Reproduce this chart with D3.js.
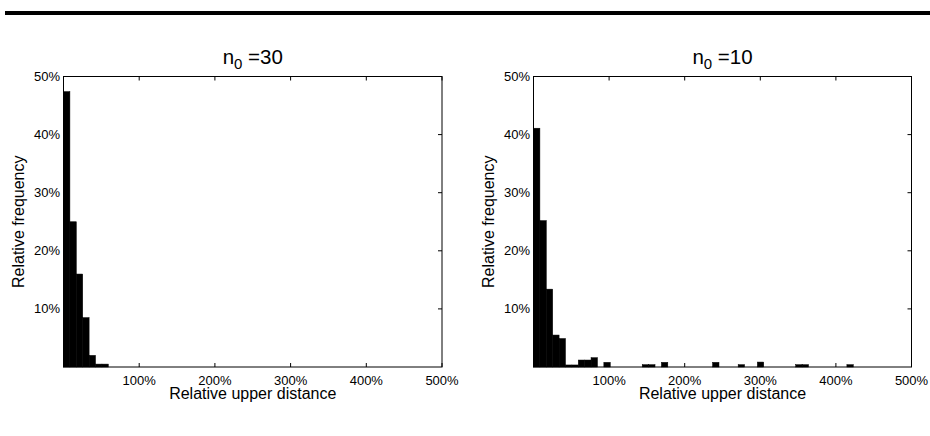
<!DOCTYPE html>
<html>
<head>
<meta charset="utf-8">
<script src="https://cdn.jsdelivr.net/npm/d3@7"></script>
<style>
  body { margin: 0; background: #fff; }
  svg text { font-family: "Liberation Sans", Arial, Helvetica, sans-serif; fill: #000; }
</style>
</head>
<body>
<div id="chart"></div>
<script>
  // bin width (in % of relative upper distance) of the histogram bars
  var binWidth = 8.46;

  var xTicks = [100, 200, 300, 400, 500];
  var yTicks = [10, 20, 30, 40, 50];

  var titles = ["30", "10"];

  // relative frequency (%) per bin, starting at 0
  var freqN30 = [47.4, 25.0, 16.0, 8.5, 2.0, 0.5, 0.5];
  var freqN10 = [41.1, 25.2, 13.4, 5.5, 4.9, 0.35, 0.35, 1.2, 1.2, 1.6,
                 0, 0.8, 0, 0, 0, 0, 0, 0.4, 0.4, 0,
                 0.8, 0, 0, 0, 0, 0, 0, 0, 0.8, 0,
                 0, 0, 0.4, 0, 0, 0.85, 0, 0, 0, 0,
                 0, 0.4, 0.4, 0, 0, 0, 0, 0, 0, 0.4];

(function() {
  var width = 930,
      height = 436;

  var svg = d3.select("#chart")
    .append("svg")
    .attr("width", width)
    .attr("height", height);

  // thick rule at the top of the figure
  svg.append("rect")
    .attr("x", 5)
    .attr("y", 11)
    .attr("width", width - 5)
    .attr("height", 4)
    .attr("fill", "#000");

  var panels = [
    {left: 63.5, right: 442, data: freqN30, title: titles[0]},
    {left: 533.5, right: 911.5, data: freqN10, title: titles[1]}
  ];

  var plotTop = 76.5,
      plotBottom = 367,
      tickLen = 4;

  panels.forEach(drawPanel);

  function drawPanel(p) {
    var x = d3.scaleLinear().domain([0, 500]).range([p.left, p.right]);
    var y = d3.scaleLinear().domain([0, 50]).range([plotBottom, plotTop]);

    var g = svg.append("g");

    // bars
    g.selectAll(".bar")
      .data(p.data.map(function(v, i) { return {i: i, v: v}; })
        .filter(function(d) { return d.v > 0; }))
      .enter()
      .append("rect")
      .attr("class", "bar")
      .attr("x", function(d) { return x(d.i * binWidth); })
      .attr("width", function(d) { return x((d.i + 1) * binWidth) - x(d.i * binWidth); })
      .attr("y", function(d) { return y(d.v); })
      .attr("height", function(d) { return plotBottom - y(d.v); })
      .attr("fill", "#000")
      .attr("stroke", "#000")
      .attr("stroke-width", 0.5);

    // box
    g.append("rect")
      .attr("x", p.left)
      .attr("y", plotTop)
      .attr("width", p.right - p.left)
      .attr("height", plotBottom - plotTop)
      .attr("fill", "none")
      .attr("stroke", "#000")
      .attr("stroke-width", 1);

    // inward ticks on all four sides
    var ticks = g.append("g").attr("stroke", "#000").attr("stroke-width", 1);
    xTicks.forEach(function(t) {
      ticks.append("line").attr("x1", x(t)).attr("x2", x(t))
        .attr("y1", plotBottom).attr("y2", plotBottom - tickLen);
      ticks.append("line").attr("x1", x(t)).attr("x2", x(t))
        .attr("y1", plotTop).attr("y2", plotTop + tickLen);
    });
    yTicks.forEach(function(t) {
      ticks.append("line").attr("x1", p.left).attr("x2", p.left + tickLen)
        .attr("y1", y(t)).attr("y2", y(t));
      ticks.append("line").attr("x1", p.right).attr("x2", p.right - tickLen)
        .attr("y1", y(t)).attr("y2", y(t));
    });

    // tick labels
    g.selectAll(".xlab")
      .data(xTicks)
      .enter().append("text")
      .attr("x", x)
      .attr("y", 385)
      .attr("text-anchor", "middle")
      .style("font-size", "13px")
      .text(function(d) { return d + "%"; });

    g.selectAll(".ylab")
      .data(yTicks)
      .enter().append("text")
      .attr("x", p.left - 3.5)
      .attr("y", function(d) { return y(d) + 4.5; })
      .attr("text-anchor", "end")
      .style("font-size", "13px")
      .text(function(d) { return d + "%"; });

    var cx = (p.left + p.right) / 2;

    g.append("text")
      .attr("x", cx)
      .attr("y", 399)
      .attr("text-anchor", "middle")
      .style("font-size", "16px")
      .text("Relative upper distance");

    g.append("text")
      .attr("transform", "translate(" + (p.left - 40) + "," + ((plotTop + plotBottom) / 2) + ") rotate(-90)")
      .attr("text-anchor", "middle")
      .style("font-size", "16px")
      .text("Relative frequency");

    var title = g.append("text")
      .attr("x", cx)
      .attr("y", 64)
      .attr("text-anchor", "middle")
      .style("font-size", "20.5px");
    title.append("tspan").text("n");
    title.append("tspan").attr("dy", 5).style("font-size", "15px").text("0");
    title.append("tspan").attr("dy", -5).text(" =" + p.title);
  }
})();
</script>
</body>
</html>
